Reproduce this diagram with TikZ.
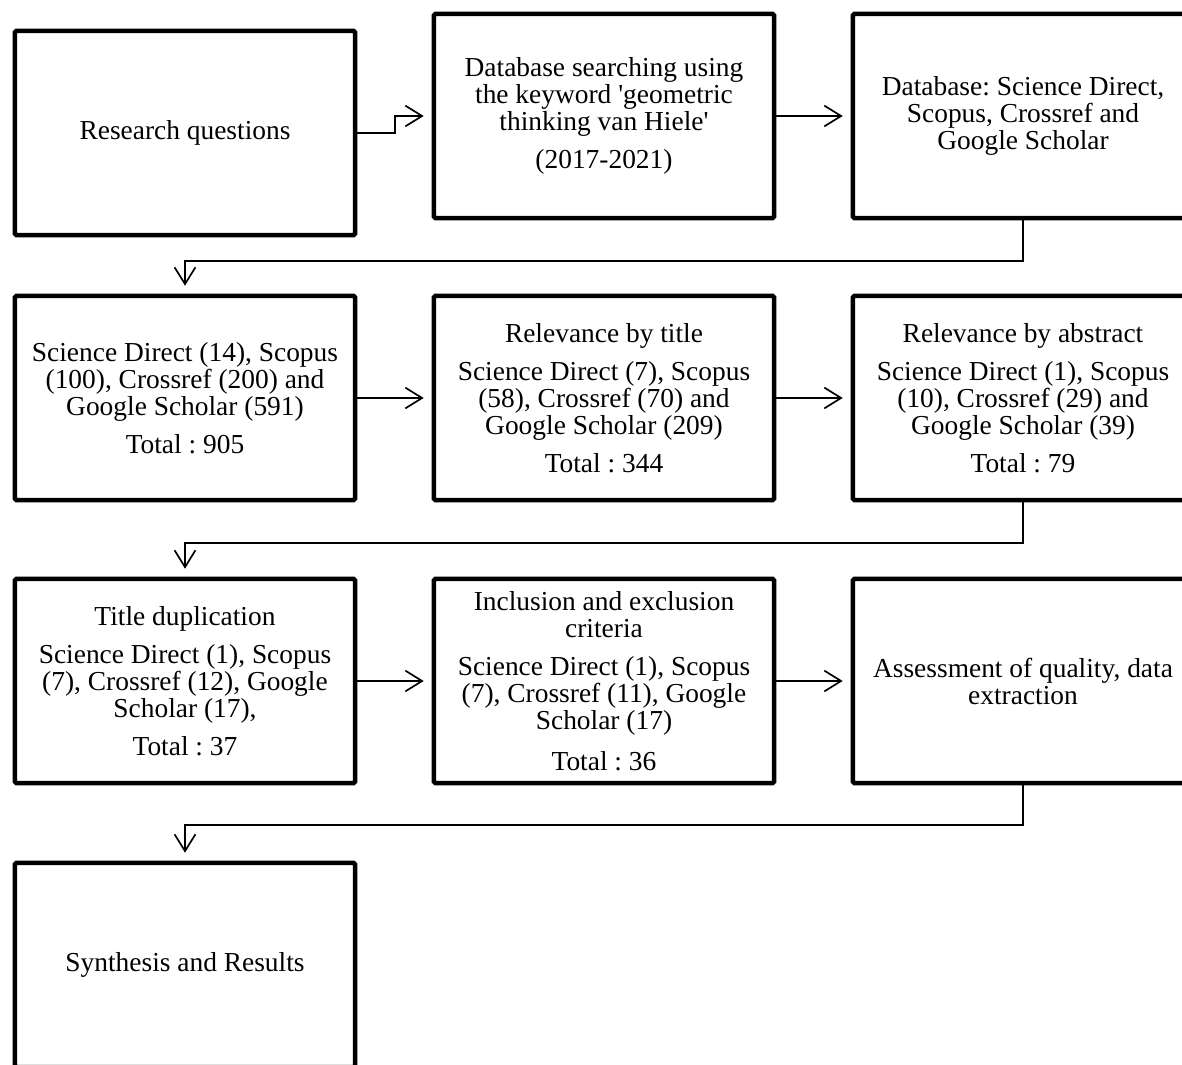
\documentclass[tikz,border=0pt]{standalone}
\usepackage{fontspec}
\setmainfont{Liberation Serif}
\usetikzlibrary{arrows.meta}
\frenchspacing

\begin{document}
\begin{tikzpicture}[x=0.025cm, y=-0.025cm,
    box/.style = {draw, line width=3.2pt, rounded corners=1pt,
      minimum width=8.5cm, minimum height=5.1cm, inner sep=2pt,
      align=center, font=\fontsize{19.5}{19.2}\selectfont},
    link/.style = {draw, line width=1.2pt, shorten >=0.2cm,
      -{Straight Barb[length=0.42cm, width=0.52cm]}}]

      % page frame
      \useasboundingbox (0,0) rectangle (1182,1064);
      \clip (0,0) rectangle (1182,1064);

      % first row
      \node[box] (quest) at (185,133) {Research questions};
      \node[box] (search) at (604,116) {Database searching using\\the keyword \textquotesingle geometric\\thinking van Hiele\textquotesingle\\[8pt](2017-2021)};
      \node[box] (dbase) at (1023,116) {Database: Science Direct,\\Scopus, Crossref and\\Google Scholar};

      % second row
      \node[box] (found) at (185,398) {Science Direct (14), Scopus\\(100), Crossref (200) and\\Google Scholar (591)\\[8pt]Total : 905};
      \node[box] (title) at (604,398) {Relevance by title\\[8pt]Science Direct (7), Scopus\\(58), Crossref (70) and\\Google Scholar (209)\\[8pt]Total : 344};
      \node[box] (abstr) at (1023,398) {Relevance by abstract\\[8pt]Science Direct (1), Scopus\\(10), Crossref (29) and\\Google Scholar (39)\\[8pt]Total : 79};

      % third row
      \node[box] (dupl) at (185,681) {Title duplication\\[8pt]Science Direct (1), Scopus\\(7), Crossref (12), Google\\Scholar (17),\\[8pt]Total : 37};
      \node[box] (incl) at (604,681) {Inclusion and exclusion\\criteria\\[8pt]Science Direct (1), Scopus\\(7), Crossref (11), Google\\Scholar (17)\\[10pt]Total : 36};
      \node[box] (assess) at (1023,681) {Assessment of quality, data\\extraction};

      % last row
      \node[box] (synth) at (185,965) {Synthesis and Results};

      % links in first row
      \draw[link] (quest.east) -- ++(38,0) |- (search.west);
      \draw[link] (search.east) -- (dbase.west);
      % back to the left
      \draw[link] (dbase.south) -- ++(0,41) -| (found.north);

      % links in second row
      \draw[link] (found.east) -- (title.west);
      \draw[link] (title.east) -- (abstr.west);
      % back to the left
      \draw[link] (abstr.south) -- ++(0,41) -| (dupl.north);

      % links in third row
      \draw[link] (dupl.east) -- (incl.west);
      \draw[link] (incl.east) -- (assess.west);
      % down to the results
      \draw[link] (assess.south) -- ++(0,40) -| (synth.north);

\end{tikzpicture}
\end{document}
